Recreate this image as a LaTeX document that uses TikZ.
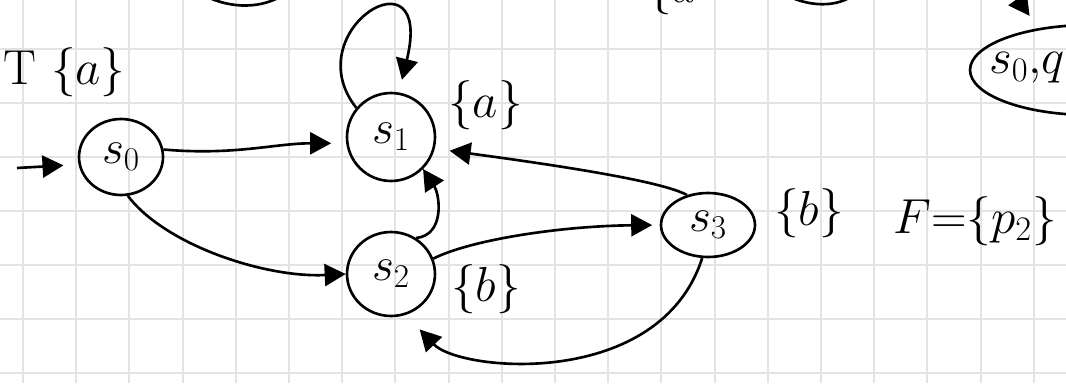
\RequirePackage{fix-cm}
\documentclass[tikz,border=0pt]{standalone}
\usepackage{amsmath}
\usetikzlibrary{arrows.meta, positioning, calc, shapes.geometric}

\begin{document}
\begin{tikzpicture}[
  x=0.02cm, y=-0.02cm,
  gridline/.style={gray!22, line width=1.1pt},
  state/.style={draw, ellipse, line width=1.5pt, inner sep=0pt, font=\fontsize{27}{31}\selectfont},
  lbl/.style={inner sep=0pt, font=\fontsize{28}{32}\selectfont},
  edge/.style={-{Triangle[length=4.2mm, width=4.4mm]}, line width=1.5pt},
  stroke/.style={line width=1.5pt},
  node distance=0.4cm
]
\fill[white] (0,0) rectangle (1066,383);
\useasboundingbox (0,0) rectangle (1066,383);
\clip (0,0) rectangle (1066,383);
\foreach \gx in {0,...,19} \draw[gridline] ({23+53.2*\gx},0) -- ({23+53.2*\gx},383);
\foreach \gy in {-1,...,6} \draw[gridline] (0,{49+54*\gy}) -- (1066,{49+54*\gy});

\node[state, minimum width=1.68cm, minimum height=1.52cm] (s0) at (121,157) {$s_0$};
\node[state, minimum width=1.76cm, minimum height=1.76cm] (s1) at (391,137) {$s_1$};
\node[state, minimum width=1.76cm, minimum height=1.68cm] (s2) at (391,274) {$s_2$};
\node[state, minimum width=1.88cm, minimum height=1.28cm] (s3) at (708,225) {$s_3$};
\node[state, minimum width=4.8cm, minimum height=1.8cm] (pair) at (1090,70) {};
\node[lbl, anchor=west] (pairtext) at ($(pair.west)+(20,-2)$) {$s_0{,}q$};

\node[lbl, anchor=west] (lbl0) at (3,72) {T $\{a\}$};
\node[lbl, right=0.5cm of s1.north east] (lbl1) {$\{a\}$};
\node[lbl, right=0.35cm of s2.-20] (lbl2) {$\{b\}$};
\node[lbl, right=0.42cm of s3.15] (lbl3) {$\{b\}$};
\node[lbl, anchor=west] (finals) at (893,221) {$F{=}\{p_2\}$};
\node[lbl] (toptext) at (672,-10) {$\{a$};

\coordinate (start) at (17,168);
\coordinate (pairin) at (990,-40);
\draw[edge, shorten >=0.3cm] (start) -- (s0.190);
\draw[edge, shorten >=0.3cm] (s0.10) to[out=-5, in=180] (s1.188);
\draw[edge, shorten >=0.26cm] (s1.140) .. controls (295,30) and (435,-55) .. (s1.80);
\draw[edge] (s0.-80) .. controls (165,245) and (265,278) .. (s2.west);
\draw[edge] (s2.55) .. controls (445,235) and (440,195) .. (s1.-45);
\draw[edge, shorten >=0.15cm] (s2.20) .. controls (470,240) and (560,226) .. (s3.west);
\draw[edge, shorten >=0.3cm] (s3.125) .. controls (660,180) and (540,163) .. (s1.-15);
\draw[edge, shorten >=0.4cm] (s3.-100) .. controls (660,390) and (460,372) .. (s2.-70);
\draw[edge, shorten >=0.3cm] (pairin) -- (pair.141);

\draw[stroke] (205,-4) .. controls (232,9) and (262,9) .. (285,-6);
\draw[stroke] (790,-3) .. controls (815,8) and (840,6) .. (855,-6);
\end{tikzpicture}
\end{document}
